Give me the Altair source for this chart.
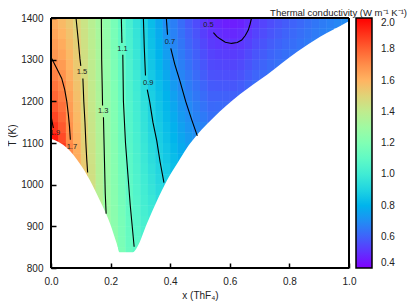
import math
import altair as alt
import pandas as pd

# ---------------- data ----------------
# heat-map cells: x (ThF4) columns of width 0.025, rows of 25 K from 1400 K downward
x_step = 0.025
t_step = 25
t_top = 1400
k_cols = [
    [1.62, 1.64, 1.66, 1.68, 1.70, 1.73, 1.76, 1.79, 1.82, 1.86, 1.90, 1.95],
    [1.58, 1.60, 1.62, 1.64, 1.665, 1.69, 1.715, 1.74, 1.765, 1.79, 1.82, 1.85, 1.88],
    [1.54, 1.555, 1.57, 1.585, 1.60, 1.615, 1.63, 1.645, 1.66, 1.675, 1.69, 1.70, 1.715, 1.73],
    [1.495, 1.505, 1.515, 1.525, 1.535, 1.545, 1.555, 1.565, 1.575, 1.585, 1.595, 1.605, 1.615, 1.625, 1.635],
    [1.435, 1.44, 1.447, 1.454, 1.461, 1.468, 1.475, 1.482, 1.489, 1.496, 1.503, 1.51, 1.517, 1.524, 1.531, 1.538],
    [1.378, 1.383, 1.388, 1.393, 1.398, 1.403, 1.408, 1.413, 1.418, 1.423, 1.428, 1.433, 1.438, 1.443, 1.448, 1.453, 1.458],
    [1.322, 1.325, 1.328, 1.331, 1.334, 1.337, 1.34, 1.343, 1.346, 1.349, 1.352, 1.355, 1.358, 1.361, 1.364, 1.367, 1.37, 1.373, 1.376],
    [1.255, 1.257, 1.259, 1.261, 1.263, 1.265, 1.267, 1.269, 1.271, 1.273, 1.275, 1.277, 1.279, 1.281, 1.283, 1.285, 1.287, 1.289, 1.291, 1.293],
    [1.174, 1.177, 1.18, 1.184, 1.188, 1.192, 1.196, 1.2, 1.203, 1.206, 1.209, 1.212, 1.215, 1.218, 1.221, 1.224, 1.227, 1.23, 1.233, 1.236, 1.239, 1.242],
    [1.099, 1.102, 1.106, 1.11, 1.114, 1.118, 1.122, 1.126, 1.13, 1.134, 1.138, 1.142, 1.146, 1.15, 1.154, 1.158, 1.162, 1.166, 1.17, 1.174, 1.178, 1.182, 1.186],
    [1.025, 1.03, 1.034, 1.039, 1.043, 1.048, 1.052, 1.057, 1.061, 1.066, 1.07, 1.075, 1.079, 1.084, 1.088, 1.093, 1.097, 1.102, 1.106, 1.111, 1.115, 1.12, 1.124],
    [0.96, 0.966, 0.972, 0.978, 0.984, 0.99, 0.996, 1.002, 1.008, 1.014, 1.02, 1.026, 1.032, 1.038, 1.044, 1.05, 1.056, 1.062, 1.068, 1.074, 1.08, 1.086, 1.09],
    [0.891, 0.897, 0.903, 0.91, 0.918, 0.926, 0.934, 0.942, 0.95, 0.957, 0.964, 0.971, 0.978, 0.985, 0.992, 0.999, 1.006, 1.013, 1.02, 1.027, 1.034, 1.04],
    [0.827, 0.834, 0.841, 0.849, 0.857, 0.865, 0.874, 0.883, 0.892, 0.901, 0.91, 0.919, 0.928, 0.938, 0.948, 0.958, 0.968, 0.978, 0.988, 0.998],
    [0.765, 0.776, 0.787, 0.798, 0.809, 0.82, 0.831, 0.842, 0.853, 0.862, 0.871, 0.88, 0.889, 0.898, 0.908, 0.918, 0.928, 0.938],
    [0.703, 0.716, 0.729, 0.742, 0.755, 0.769, 0.783, 0.797, 0.809, 0.82, 0.831, 0.842, 0.853, 0.864, 0.875, 0.886, 0.895],
    [0.665, 0.673, 0.682, 0.691, 0.701, 0.717, 0.733, 0.75, 0.767, 0.779, 0.791, 0.803, 0.815, 0.827, 0.839, 0.851],
    [0.625, 0.635, 0.646, 0.657, 0.668, 0.68, 0.693, 0.707, 0.721, 0.735, 0.749, 0.763, 0.777, 0.79],
    [0.585, 0.597, 0.61, 0.623, 0.636, 0.649, 0.662, 0.676, 0.69, 0.704, 0.718, 0.732, 0.746],
    [0.555, 0.568, 0.581, 0.594, 0.607, 0.62, 0.634, 0.648, 0.662, 0.676, 0.69, 0.704],
    [0.513, 0.528, 0.543, 0.558, 0.574, 0.59, 0.606, 0.622, 0.638, 0.655, 0.672],
    [0.487, 0.503, 0.519, 0.535, 0.551, 0.567, 0.583, 0.599, 0.615, 0.631, 0.647],
    [0.474, 0.492, 0.51, 0.528, 0.546, 0.564, 0.582, 0.6, 0.618, 0.636],
    [0.462, 0.482, 0.502, 0.522, 0.541, 0.56, 0.579, 0.598, 0.617],
    [0.459, 0.48, 0.501, 0.521, 0.54, 0.559, 0.578, 0.597, 0.615],
    [0.469, 0.49, 0.51, 0.53, 0.549, 0.568, 0.587, 0.605],
    [0.49, 0.51, 0.53, 0.549, 0.568, 0.587, 0.605],
    [0.518, 0.536, 0.554, 0.572, 0.59, 0.607, 0.624],
    [0.537, 0.554, 0.571, 0.588, 0.605, 0.622],
    [0.557, 0.573, 0.589, 0.605, 0.621, 0.637],
    [0.573, 0.588, 0.603, 0.618, 0.633],
    [0.588, 0.602, 0.616, 0.63, 0.644],
    [0.602, 0.615, 0.628, 0.641],
    [0.617, 0.629, 0.641, 0.653],
    [0.632, 0.643, 0.654],
    [0.646, 0.657, 0.668],
    [0.659, 0.669],
    [0.671, 0.68],
    [0.684],
    [0.695],
]

# liquidus (lower edge of the coloured region)
liq_x = [0.0, 0.054, 0.097, 0.131, 0.164, 0.198, 0.22, 0.23, 0.275, 0.289, 0.322, 0.356,
         0.389, 0.423, 0.456, 0.466, 0.544, 0.634, 0.725, 0.826, 0.903, 0.993, 1.0]
liq_T = [1110, 1088, 1050, 1010, 962, 907, 860, 838, 838, 850, 907, 962,
         1010, 1050, 1088, 1098, 1160, 1217, 1264, 1319, 1355, 1390, 1393]

# contour lines (segments broken where the inline labels sit)
contour_segments = [
    ("1.9", [0.0, 0.004, 0.008], [1166, 1150, 1136]),
    ("1.7", [0.0, 0.01, 0.024, 0.036, 0.046, 0.053, 0.058, 0.062, 0.065],
            [1306, 1292, 1272, 1255, 1228, 1200, 1170, 1140, 1108]),
    ("1.5a", [0.084, 0.091, 0.097, 0.1], [1400, 1350, 1303, 1285]),
    ("1.5b", [0.107, 0.11, 0.114, 0.117, 0.12, 0.123], [1255, 1200, 1150, 1100, 1060, 1029]),
    ("1.3a", [0.169, 0.17, 0.172, 0.173], [1400, 1300, 1230, 1190]),
    ("1.3b", [0.176, 0.178, 0.18, 0.182, 0.185], [1162, 1100, 1040, 980, 930]),
    ("1.1a", [0.236, 0.238], [1400, 1340]),
    ("1.1b", [0.241, 0.243, 0.25, 0.258, 0.266, 0.279], [1312, 1200, 1100, 1025, 950, 851]),
    ("0.9a", [0.31, 0.313, 0.317], [1400, 1330, 1262]),
    ("0.9b", [0.323, 0.331, 0.342, 0.355, 0.366, 0.379], [1228, 1200, 1150, 1105, 1055, 1005]),
    ("0.7a", [0.387, 0.391], [1400, 1360]),
    ("0.7b", [0.402, 0.415, 0.433, 0.452, 0.472, 0.491], [1327, 1290, 1248, 1200, 1156, 1117]),
    ("0.5", [0.545, 0.556, 0.567, 0.585, 0.606, 0.625, 0.64, 0.652, 0.662, 0.668, 0.673],
            [1365, 1356, 1350, 1342, 1339, 1341, 1347, 1358, 1371, 1385, 1400]),
]

label_text = ["1.9", "1.7", "1.5", "1.3", "1.1", "0.9", "0.7", "0.5"]
label_x = [0.013, 0.07, 0.104, 0.175, 0.240, 0.326, 0.399, 0.528]
label_T = [1125, 1090, 1270, 1176, 1326, 1244, 1343, 1383]

x_ticks = [0.0, 0.2, 0.4, 0.6, 0.8, 1.0]
y_ticks = [800, 900, 1000, 1100, 1200, 1300, 1400]
c_ticks = [0.4, 0.6, 0.8, 1.0, 1.2, 1.4, 1.6, 1.8, 2.0]

# plot frame (bottom, top, left, right edges of the axes box)
frame_x0 = [0.0, 0.0, 0.0, 1.0]
frame_x1 = [1.0, 1.0, 0.0, 1.0]
frame_T0 = [800, 1400, 800, 800]
frame_T1 = [800, 1400, 1400, 1400]

# ---------------- tables ----------------
cells = []
for i, col in enumerate(k_cols):
    for j, v in enumerate(col):
        cells.append({"x0": i * x_step, "x1": (i + 1) * x_step,
                      "T1": t_top - j * t_step, "T0": t_top - (j + 1) * t_step, "k": v})
cells = pd.DataFrame(cells)

liq = pd.DataFrame({"x0": liq_x, "T0": liq_T})

rows = []
for name, xs_, ts_ in contour_segments:
    for n, (a, b) in enumerate(zip(xs_, ts_)):
        rows.append({"seg": name, "o": n, "x0": a, "T0": b})
lines = pd.DataFrame(rows)

labels = pd.DataFrame({"t": label_text, "x0": label_x, "T0": label_T})
frame = pd.DataFrame({"x0": frame_x0, "x1": frame_x1, "T0": frame_T0, "T1": frame_T1})

# matplotlib-style "rainbow" colour map
def rainbow(t):
    r = abs(2 * t - 0.5)
    g = math.sin(math.pi * t)
    b = math.cos(math.pi * t / 2)
    return "#%02x%02x%02x" % tuple(int(round(max(0.0, min(1.0, c)) * 255)) for c in (r, g, b))

n_stops = 17
c_domain = [0.4 + 1.6 * i / (n_stops - 1) for i in range(n_stops)]
c_range = [rainbow(i / (n_stops - 1)) for i in range(n_stops)]

# ---------------- chart ----------------
FONT = "Liberation Sans"
TXT = "#222222"
xs = alt.Scale(domain=[0, 1], nice=False, zero=False)
ys = alt.Scale(domain=[800, 1400], nice=False, zero=False)
cs = alt.Scale(domain=c_domain, range=c_range, interpolate="rgb", clamp=True)

x_axis = alt.Axis(values=x_ticks, format=".1f", tickSize=5, tickWidth=1.5, tickColor="black",
                  domain=False, grid=False, offset=-5, labelPadding=8, labelFontSize=10,
                  labelColor=TXT, labelFlush=False, title="x (ThF\u2084)", titleFontSize=10,
                  titleFontWeight="normal", titleColor=TXT, titlePadding=4, zindex=1)
y_axis = alt.Axis(values=y_ticks, format="d", tickSize=5, tickWidth=1.5, tickColor="black",
                  domain=False, grid=False, offset=-5, labelPadding=8, labelFontSize=10,
                  labelColor=TXT, title="T (K)", titleFontSize=10, titleFontWeight="normal",
                  titleColor=TXT, titlePadding=3, titleY=117, zindex=1)

X = alt.X("x0:Q", scale=xs, axis=x_axis)
Y = alt.Y("T0:Q", scale=ys, axis=y_axis)
legend = alt.Legend(
    type="gradient", orient="none", legendX=305, legendY=0, direction="vertical",
    title=None, gradientLength=250, gradientThickness=16, gradientStrokeColor="black",
    gradientStrokeWidth=1.5, values=c_ticks, format=".1f", labelFontSize=10,
    labelOffset=9, labelColor=TXT, padding=0)
C = alt.Color("k:Q", scale=cs, legend=legend)

# the cells are drawn twice so that the anti-aliasing seams between them vanish
heat = alt.Chart(cells).mark_rect().encode(x=X, x2="x1:Q", y=Y, y2="T1:Q", color=C)
heat2 = alt.Chart(cells).mark_rect().encode(x=X, x2="x1:Q", y=Y, y2="T1:Q", color=C)

mask = alt.Chart(liq).mark_area(color="white", interpolate="monotone").encode(
    x=X, y=Y, y2=alt.datum(800),
)

clines = alt.Chart(lines).mark_line(color="black", strokeWidth=1.1).encode(
    x=X, y=Y, detail="seg:N", order="o:Q",
)

clabels = alt.Chart(labels).mark_text(fontSize=7.5, color=TXT, font=FONT).encode(
    x=X, y=Y, text="t:N",
)

box = alt.Chart(frame).mark_rule(color="black", strokeWidth=2).encode(
    x=X, x2="x1:Q", y=Y, y2="T1:Q",
)

chart = alt.layer(heat, heat2, mask, clines, clabels, box).properties(
    width=298, height=250,
    padding={"left": 43, "top": 10, "right": 58, "bottom": 36},
    autosize=alt.AutoSizeParams(type="none"),
    title=alt.TitleParams(
        "Thermal conductivity (W m\u207b\u00b9 K\u207b\u00b9)", anchor="end", frame="group",
        orient="top", dx=58, dy=12, offset=0, baseline="alphabetic", fontSize=9.5,
        fontWeight="normal", color=TXT, font=FONT),
).configure(font=FONT).configure_view(stroke=None).configure_axis(
    labelFont=FONT, titleFont=FONT
).configure_legend(labelFont=FONT)

chart.save("out.html", embed_options={"renderer": "svg", "actions": False})
